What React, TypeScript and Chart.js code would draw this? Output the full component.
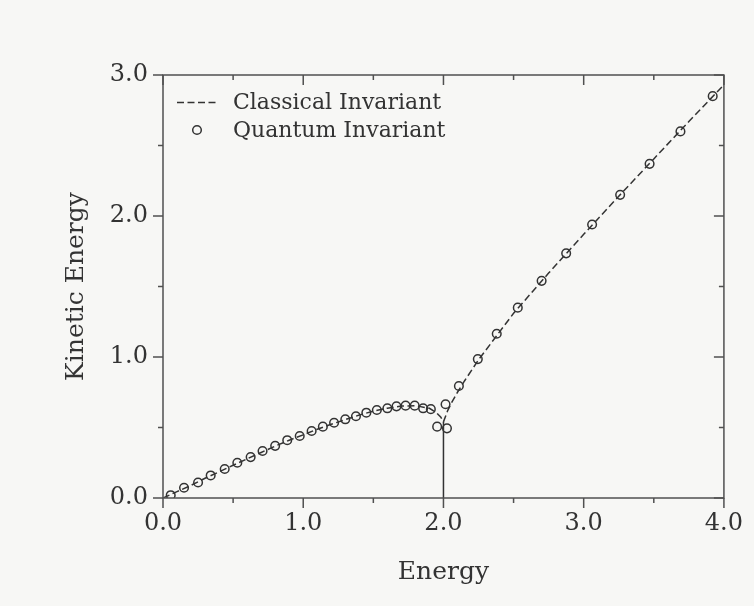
import { useEffect, useRef } from "react";
import { Chart, registerables } from "chart.js";

Chart.register(...registerables);

// ---- data ----
const xTickValues = [0, 1, 2, 3, 4];
const xMinorTicks = [0.5, 1.5, 2.5, 3.5];
const yTickValues = [0, 1, 2, 3];
const yMinorTicks = [0.5, 1.5, 2.5];

const classicalX = [0, 0.1, 0.2, 0.3, 0.4, 0.5, 0.6, 0.7, 0.8, 0.9, 1.0, 1.1, 1.2, 1.3, 1.4, 1.5, 1.6, 1.7, 1.8, 1.9, 1.95, 1.98, 2.0, 2.03, 2.06, 2.1, 2.15, 2.2, 2.25, 2.5, 2.75, 3.0, 3.25, 3.5, 3.75, 4.0];
const classicalY = [0, 0.045, 0.09, 0.14, 0.185, 0.232, 0.278, 0.323, 0.368, 0.41, 0.448, 0.488, 0.523, 0.556, 0.588, 0.616, 0.637, 0.652, 0.655, 0.636, 0.605, 0.575, 0.54, 0.62, 0.68, 0.75, 0.83, 0.905, 0.98, 1.31, 1.595, 1.87, 2.14, 2.405, 2.67, 2.93];

const quantumX = [0.055, 0.15, 0.25, 0.34, 0.44, 0.53, 0.625, 0.71, 0.8, 0.886, 0.975, 1.06, 1.14, 1.22, 1.3, 1.376, 1.45, 1.525, 1.6, 1.665, 1.73, 1.795, 1.855, 1.91, 1.955, 2.025, 2.015, 2.11, 2.245, 2.38, 2.53, 2.7, 2.875, 3.06, 3.26, 3.47, 3.69, 3.92];
const quantumY = [0.02, 0.073, 0.11, 0.16, 0.206, 0.25, 0.29, 0.333, 0.37, 0.41, 0.44, 0.475, 0.506, 0.534, 0.558, 0.58, 0.605, 0.624, 0.636, 0.65, 0.655, 0.655, 0.636, 0.63, 0.506, 0.494, 0.665, 0.794, 0.985, 1.165, 1.35, 1.54, 1.735, 1.94, 2.15, 2.37, 2.6, 2.85];

const separatrixX = [2.0, 2.0];
const separatrixY = [0.54, 0];

const legendLabels = ["Classical Invariant", "Quantum Invariant"];
const xTitle = "Energy";
const yTitle = "Kinetic Energy";

// ---- styles ----
const INK = "#333333";
const AXIS = "#505050";
const PAPER = "#f7f7f5";
const FONT = "'DejaVu Serif', 'Liberation Serif', serif";
const DASH = [7, 3.5];

const toPoints = (xs: number[], ys: number[]) => xs.map((x, i) => ({ x, y: ys[i] }));

const paperPlugin = {
  id: "paper",
  beforeDraw(chart: any) {
    const { ctx, width, height } = chart;
    ctx.save();
    ctx.fillStyle = PAPER;
    ctx.fillRect(0, 0, width, height);
    ctx.restore();
  },
};

const framePlugin = {
  id: "frame",
  afterDraw(chart: any) {
    const { ctx, chartArea } = chart;
    const { left, right, top, bottom } = chartArea;
    const xs = chart.scales.x;
    const ys = chart.scales.y;
    ctx.save();
    ctx.strokeStyle = AXIS;
    ctx.lineWidth = 1.5;
    ctx.setLineDash([]);
    ctx.strokeRect(left, top, right - left, bottom - top);
    ctx.beginPath();
    const major = 10;
    const minor = 5;
    xTickValues.forEach((v) => {
      const px = xs.getPixelForValue(v);
      ctx.moveTo(px, bottom);
      ctx.lineTo(px, bottom + major);
      ctx.moveTo(px, top);
      ctx.lineTo(px, top + major);
    });
    xMinorTicks.forEach((v) => {
      const px = xs.getPixelForValue(v);
      ctx.moveTo(px, bottom);
      ctx.lineTo(px, bottom + minor);
      ctx.moveTo(px, top);
      ctx.lineTo(px, top + minor);
    });
    yTickValues.forEach((v) => {
      const py = ys.getPixelForValue(v);
      ctx.moveTo(left - major, py);
      ctx.lineTo(left, py);
      ctx.moveTo(right - major, py);
      ctx.lineTo(right, py);
    });
    yMinorTicks.forEach((v) => {
      const py = ys.getPixelForValue(v);
      ctx.moveTo(left - minor, py);
      ctx.lineTo(left, py);
      ctx.moveTo(right - minor, py);
      ctx.lineTo(right, py);
    });
    ctx.stroke();
    ctx.restore();
  },
};

const legendPlugin = {
  id: "insideLegend",
  afterDatasetsDraw(chart: any) {
    const { ctx, chartArea } = chart;
    const { left, top } = chartArea;
    ctx.save();
    ctx.strokeStyle = INK;
    ctx.lineWidth = 1.5;
    ctx.setLineDash(DASH);
    ctx.beginPath();
    ctx.moveTo(left + 14, top + 27.5);
    ctx.lineTo(left + 56, top + 27.5);
    ctx.stroke();
    ctx.setLineDash([]);
    ctx.beginPath();
    ctx.arc(left + 34, top + 55, 4.3, 0, Math.PI * 2);
    ctx.stroke();
    ctx.fillStyle = INK;
    ctx.font = `22px ${FONT}`;
    ctx.textAlign = "left";
    ctx.textBaseline = "alphabetic";
    ctx.fillText(legendLabels[0], left + 70, top + 33.5);
    ctx.fillText(legendLabels[1], left + 70, top + 62);
    ctx.restore();
  },
};

export default function App() {
  const ref = useRef<HTMLCanvasElement | null>(null);

  useEffect(() => {
    if (!ref.current) return;
    const chart = new Chart(ref.current, {
      type: "scatter",
      data: {
        datasets: [
          {
            label: legendLabels[0],
            data: toPoints(classicalX, classicalY),
            showLine: true,
            borderColor: INK,
            borderWidth: 1.5,
            borderDash: DASH,
            pointRadius: 0,
            tension: 0,
            fill: false,
          },
          {
            label: "separatrix",
            data: toPoints(separatrixX, separatrixY),
            showLine: true,
            borderColor: INK,
            borderWidth: 1.5,
            pointRadius: 0,
            fill: false,
          },
          {
            label: legendLabels[1],
            data: toPoints(quantumX, quantumY),
            showLine: false,
            pointStyle: "circle",
            pointRadius: 4.3,
            pointBorderWidth: 1.5,
            pointBorderColor: INK,
            pointBackgroundColor: "rgba(0,0,0,0)",
          },
        ],
      },
      options: {
        animation: false,
        responsive: false,
        maintainAspectRatio: false,
        events: [],
        layout: { padding: { top: 75, right: 28, left: 0, bottom: 0 } },
        plugins: {
          legend: { display: false },
          tooltip: { enabled: false },
        },
        scales: {
          x: {
            type: "linear",
            min: 0,
            max: 4,
            grid: { display: false, drawTicks: false },
            border: { display: false },
            afterBuildTicks: (scale: any) => {
              scale.ticks = xTickValues.map((v) => ({ value: v }));
            },
            afterFit: (scale: any) => {
              scale.height = 108;
            },
            ticks: {
              autoSkip: false,
              maxRotation: 0,
              padding: 11,
              color: INK,
              font: { family: FONT, size: 24 },
              callback: (v: any) => Number(v).toFixed(1),
            },
            title: {
              display: true,
              text: xTitle,
              color: INK,
              font: { family: FONT, size: 25 },
              padding: { top: 0, bottom: 19 },
            },
          },
          y: {
            type: "linear",
            min: 0,
            max: 3,
            grid: { display: false, drawTicks: false },
            border: { display: false },
            afterBuildTicks: (scale: any) => {
              scale.ticks = yTickValues.map((v) => ({ value: v }));
            },
            afterFit: (scale: any) => {
              scale.width = 163;
            },
            ticks: {
              autoSkip: false,
              padding: 15,
              color: INK,
              font: { family: FONT, size: 24 },
              callback: (v: any) => Number(v).toFixed(1),
            },
            title: {
              display: true,
              text: yTitle,
              color: INK,
              font: { family: FONT, size: 25 },
              padding: { top: 61, bottom: 0 },
            },
          },
        },
      },
      plugins: [paperPlugin, framePlugin, legendPlugin],
    });
    return () => chart.destroy();
  }, []);

  return (
    <div style={{ position: "fixed", left: 0, top: 0, width: 754, height: 606 }}>
      <canvas ref={ref} width={754} height={606} style={{ display: "block" }} />
    </div>
  );
}
